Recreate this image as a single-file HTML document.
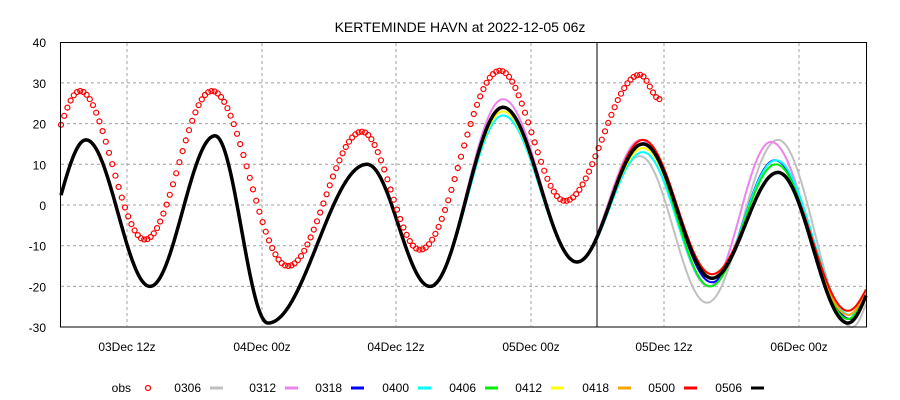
<!DOCTYPE html>
<html><head><meta charset="utf-8"><style>
html,body{margin:0;padding:0;background:#fff;}
svg{display:block;font-family:"Liberation Sans",sans-serif;}
</style></head><body>
<svg id="s" width="900" height="400" xmlns="http://www.w3.org/2000/svg">
<rect width="900" height="400" fill="#fff"/>
<text x="460" y="32" font-size="14" text-anchor="middle">KERTEMINDE HAVN at 2022-12-05 06z</text>
<g id="grid" stroke="#a0a0a0" stroke-dasharray="3,3" stroke-width="1"></g>
<g id="lab" font-size="12"></g>
<g id="ser" fill="none" stroke-linejoin="round"></g>
<line x1="597" y1="42" x2="597" y2="327" stroke="#000" stroke-width="1"/>
<rect x="60.5" y="42.5" width="806" height="284.5" fill="none" stroke="#000"/>
<g id="leg" font-size="12"></g>
</svg>
<script>
var NS="http://www.w3.org/2000/svg";
function el(t,a,p,txt){var e=document.createElementNS(NS,t);for(var k in a)e.setAttribute(k,a[k]);if(txt!=null)e.textContent=txt;document.getElementById(p).appendChild(e);return e;}
function Y(v){return 205-v*4.07;}
for(var v=-30;v<=40;v+=10){var y=Y(v);if(v>-30&&v<40)el("line",{x1:61,x2:866,y1:y,y2:y},"grid");
el("text",{x:46,y:y+5,"text-anchor":"end"},"lab",v);}
var xt=[[127,"03Dec 12z"],[262,"04Dec 00z"],[396,"04Dec 12z"],[531,"05Dec 00z"],[664,"05Dec 12z"],[799,"06Dec 00z"]];
xt.forEach(function(t){el("line",{x1:t[0],x2:t[0],y1:43,y2:326},"grid");el("text",{x:t[0],y:351,"text-anchor":"middle"},"lab",t[1]);});
function interp(pts,x){
 if(x<=pts[0][0])return pts[0][1];
 for(var i=0;i<pts.length-1;i++){var a=pts[i],b=pts[i+1];if(x>=a[0]&&x<=b[0]){var t=(x-a[0])/(b[0]-a[0]);return a[1]+(b[1]-a[1])*(1-Math.cos(Math.PI*t))/2;}}
 return pts[pts.length-1][1];}
var base=[[35,-12],[86,16],[150,-20],[215,17],[268,-29],[367,10],[430,-20],[503,24],[577,-14],[643,15],[712,-18],[778,8],[848,-29],[885,-15]];
function mod(p503,a,b,c,d,xs){var p=base.map(function(q){return q.slice();});p[7][1]=p503;p[9][1]=a;p[10][1]=b;p[11][1]=c;p[12][1]=d;if(xs){p[9][0]+=xs[0];p[10][0]+=xs[1];p[11][0]+=xs[2];p[12][0]+=xs[3];}return p;}
var series=[
["0306","#c0c0c0",mod(23,12,-24,16,-30,[-3,-5,0,4])],
["0312","#ee82ee",mod(26,16,-20,15.5,-28,[-2,-3,-7,0])],
["0318","#0000ff",mod(24,15,-19,11,-28,[0,0,-3,2])],
["0400","#00ffff",mod(22,13,-20,11,-27,[0,-2,-2,2])],
["0406","#00ee00",mod(24,15,-20,10,-28,[0,-2,-2,0])],
["0412","#ffff00",mod(23,14,-18,8,-26,[0,0,0,0])],
["0418","#ffa500",mod(24,16,-17,8,-27,[0,0,0,0])],
["0500","#ff0000",mod(24,16,-17,8,-26,[0,0,0,0])],
["0506","#000000",base]];
series.forEach(function(s,i){var d="";for(var x=61;x<=866;x+=1){d+=(x==61?"M":"L")+x+","+Y(interp(s[2],x)).toFixed(1);}
el("path",{d:d,stroke:s[1],"stroke-width":i==8?3.5:2},"ser");});
var obs=[[40,10],[80,28],[145,-8.5],[212,28],[288,-15],[362,18],[420,-11],[500,33],[565,1],[640,32],[660,26]];
for(var x=61;x<=660;x+=3.2){var v=interp(obs,x);
el("circle",{cx:x.toFixed(1),cy:Y(v).toFixed(1),r:2.5,stroke:"#ff0000","stroke-width":1.2},"ser");}
var lx=[[120,"obs"],[190,"0306"],[265,"0312"],[331,"0318"],[398,"0400"],[465,"0406"],[531,"0412"],[598,"0418"],[664,"0500"],[731,"0506"]];
var cols=["", "#c0c0c0","#ee82ee","#0000ff","#00ffff","#00ee00","#ffff00","#ffa500","#ff0000","#000000"];
lx.forEach(function(l,i){el("text",{x:l[0]+11,y:392,"text-anchor":"end"},"leg",l[1]);
if(i==0)el("circle",{cx:l[0]+28,cy:388,r:2.5,fill:"none",stroke:"#f00","stroke-width":1.2},"leg");
else el("line",{x1:l[0]+20,x2:l[0]+33,y1:388,y2:388,stroke:cols[i],"stroke-width":3},"leg");});
</script>
</body></html>
